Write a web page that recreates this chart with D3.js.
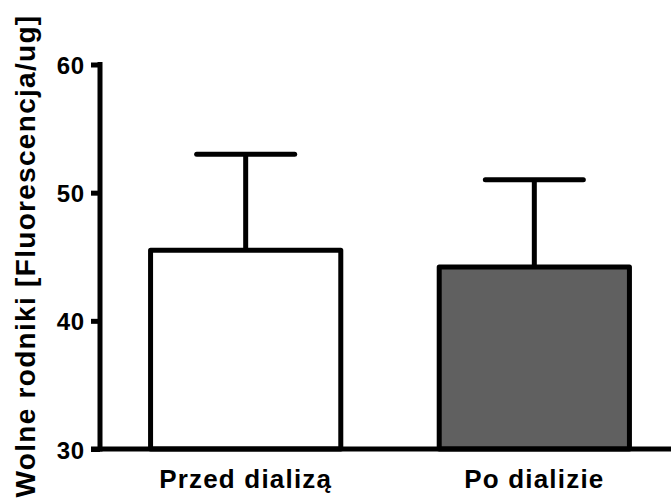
<!DOCTYPE html>
<html>
<head>
<meta charset="utf-8">
<script src="https://cdn.jsdelivr.net/npm/d3@7"></script>
<style>
  html, body { margin: 0; padding: 0; background: #fff; }
  svg { display: block; font-family: "Liberation Sans", Arial, sans-serif; }
</style>
</head>
<body>
<svg id="chart" width="671" height="504"></svg>
<script>
// Group names, means and upper error (mean + SD)
const categories = ["Przed dializą", "Po dializie"];
const means = [45.5, 44.2];
const errorTops = [53.0, 51.0];
const barFills = ["#ffffff", "#606060"];
const yTicks = [30, 40, 50, 60];
const yTitle = "Wolne rodniki [Fluorescencja/ug]";

const svg = d3.select("#chart");
const W = 671, H = 504;
const axisX = 100, baseY = 449, topY = 64.5;

const x = d3.scaleBand()
  .domain(categories)
  .range([101.5, 678.5])
  .paddingInner(0.341)
  .paddingOuter(0.17);

const y = d3.scaleLinear().domain([30, 60]).range([baseY, topY]);

const sw = 5;

// Bars
svg.append("g").selectAll("rect")
  .data(categories)
  .join("rect")
  .attr("x", d => x(d))
  .attr("y", (d, i) => y(means[i]))
  .attr("width", x.bandwidth())
  .attr("height", (d, i) => baseY - y(means[i]))
  .attr("fill", (d, i) => barFills[i])
  .attr("stroke", "#000")
  .attr("stroke-width", sw)
  .attr("stroke-linejoin", "round");

// Error bars (upper only)
const capHalf = 49;
const err = svg.append("g").attr("stroke", "#000").attr("stroke-width", sw).attr("stroke-linecap", "round");
categories.forEach((c, i) => {
  const cx = x(c) + x.bandwidth() / 2;
  err.append("line")
    .attr("x1", cx).attr("x2", cx)
    .attr("y1", y(means[i])).attr("y2", y(errorTops[i]))
    .attr("stroke-linecap", "butt");
  err.append("line")
    .attr("x1", cx - capHalf).attr("x2", cx + capHalf)
    .attr("y1", y(errorTops[i])).attr("y2", y(errorTops[i]));
});

// Y axis
const yAxis = d3.axisLeft(y).tickValues(yTicks).tickSize(9).tickPadding(6).tickSizeOuter(0);
const gy = svg.append("g").attr("transform", `translate(${axisX},0)`).call(yAxis);
gy.select(".domain").remove();
gy.selectAll(".tick line").attr("stroke", "#000").attr("stroke-width", sw);
gy.selectAll(".tick text")
  .attr("fill", "#000")
  .attr("font-size", 24)
  .attr("font-weight", "bold")
  .attr("letter-spacing", 0.8)
  .attr("font-family", "Liberation Sans, Arial, sans-serif")
  .attr("dy", "0.38em");
svg.append("line")
  .attr("x1", axisX).attr("x2", axisX)
  .attr("y1", topY - 2.5).attr("y2", baseY + 2.5)
  .attr("stroke", "#000").attr("stroke-width", sw);

// X axis baseline
const xAxis = d3.axisBottom(x).tickSize(0).tickPadding(20.5);
const gx = svg.append("g").attr("transform", `translate(0,${baseY})`).call(xAxis);
gx.select(".domain").remove();
gx.selectAll(".tick text")
  .attr("fill", "#000")
  .attr("font-size", 26)
  .attr("font-weight", "bold")
  .attr("letter-spacing", 1.2)
  .attr("font-family", "Liberation Sans, Arial, sans-serif");
svg.append("line")
  .attr("x1", axisX - 9).attr("x2", W)
  .attr("y1", baseY).attr("y2", baseY)
  .attr("stroke", "#000").attr("stroke-width", sw);

// Y title
svg.append("text")
  .attr("transform", `translate(35,${(12 + 500) / 2}) rotate(-90)`)
  .attr("text-anchor", "middle")
  .attr("font-size", 28)
  .attr("font-weight", "bold")
  .attr("letter-spacing", 1.3)
  .attr("fill", "#000")
  .text(yTitle);
</script>
</body>
</html>
